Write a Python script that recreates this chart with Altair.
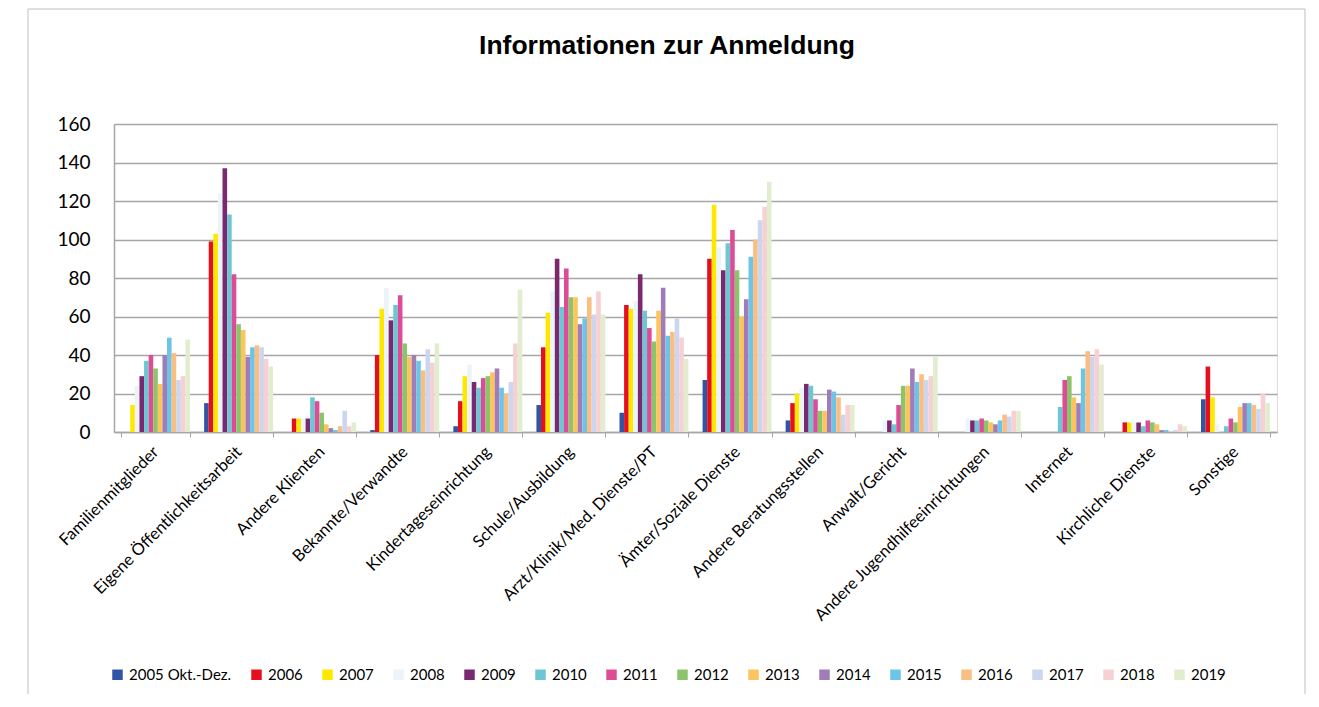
import altair as alt
import pandas as pd

categories = [
    "Familienmitglieder", "Eigene Öffentlichkeitsarbeit", "Andere Klienten",
    "Bekannte/Verwandte", "Kindertageseinrichtung", "Schule/Ausbildung",
    "Arzt/Klinik/Med. Dienste/PT", "Ämter/Soziale Dienste", "Andere Beratungsstellen",
    "Anwalt/Gericht", "Andere Jugendhilfeeinrichtungen", "Internet",
    "Kirchliche Dienste", "Sonstige",
]

years = ["2005 Okt.-Dez.", "2006", "2007", "2008", "2009", "2010", "2011", "2012",
         "2013", "2014", "2015", "2016", "2017", "2018", "2019"]

v2005 = [0, 15, 0, 1, 3, 14, 10, 27, 6, 0, 0, 0, 0, 17]
v2006 = [0, 99, 7, 40, 16, 44, 66, 90, 15, 0, 0, 0, 5, 34]
v2007 = [14, 103, 7, 64, 29, 62, 64, 118, 20, 0, 0, 0, 5, 18]
v2008 = [24, 124, 7, 75, 35, 73, 68, 96, 23, 6, 7, 0, 5, 4]
v2009 = [29, 137, 7, 58, 26, 90, 82, 84, 25, 6, 6, 0, 5, 0]
v2010 = [37, 113, 18, 66, 23, 65, 63, 98, 24, 4, 6, 13, 3, 3]
v2011 = [40, 82, 16, 71, 28, 85, 54, 105, 17, 14, 7, 27, 6, 7]
v2012 = [33, 56, 10, 46, 29, 70, 47, 84, 11, 24, 6, 29, 5, 5]
v2013 = [25, 53, 4, 39, 31, 70, 63, 60, 11, 24, 5, 18, 4, 13]
v2014 = [40, 39, 2, 40, 33, 56, 75, 69, 22, 33, 4, 15, 1, 15]
v2015 = [49, 44, 1, 37, 23, 59, 50, 91, 21, 26, 6, 33, 1, 15]
v2016 = [41, 45, 3, 32, 20, 70, 52, 100, 18, 30, 9, 42, 0, 14]
v2017 = [27, 44, 11, 43, 26, 61, 59, 110, 9, 27, 8, 39, 1, 12]
v2018 = [29, 38, 3, 36, 46, 73, 49, 117, 14, 29, 11, 43, 4, 20]
v2019 = [48, 34, 5, 46, 74, 61, 38, 130, 14, 39, 11, 35, 3, 15]

series = [v2005, v2006, v2007, v2008, v2009, v2010, v2011, v2012,
          v2013, v2014, v2015, v2016, v2017, v2018, v2019]

colors = ["#2F55A4", "#E5101D", "#FFE800", "#EAF4F9", "#7A2870", "#6FC6D3",
          "#DD4C96", "#8CC46C", "#FDC45E", "#A07DB8", "#6CC4E6", "#FBBE82",
          "#CCD6EE", "#F6D0D3", "#E2EDD0"]

rows = []
for y, vals in zip(years, series):
    for c, v in zip(categories, vals):
        rows.append({"Kategorie": c, "Jahr": y, "Anzahl": v})
df = pd.DataFrame(rows)

W, H = 1163, 308

bars = alt.Chart(df).mark_bar().encode(
    x=alt.X("Kategorie:N", sort=categories,
            scale=alt.Scale(paddingInner=0.17, paddingOuter=0.085),
            axis=alt.Axis(title=None, labelAngle=-45, labelAlign="right",
                          labelBaseline="middle", labelFontSize=16.5,
                          labelFont="Lato", labelColor="#000000",
                          labelPadding=12, tickBand="extent", ticks=True,
                          tickSize=5, tickColor="#A6A6A6", domainColor="#A6A6A6",
                          domainWidth=1.5, grid=False, labelLimit=400)),
    xOffset=alt.XOffset("Jahr:N", sort=years, scale=alt.Scale(paddingInner=0, paddingOuter=0)),
    y=alt.Y("Anzahl:Q", scale=alt.Scale(domain=[0, 160]),
            axis=alt.Axis(title=None, values=list(range(0, 161, 20)),
                          labelFontSize=19, labelFont="Lato", labelColor="#000000",
                          ticks=False, labelPadding=24, domainColor="#A6A6A6",
                          domainWidth=1.5, gridColor="#A6A6A6", gridWidth=1.5)),
    color=alt.Color("Jahr:N", sort=years,
                    scale=alt.Scale(domain=years, range=colors),
                    legend=alt.Legend(title=None, orient="none", legendX=-4, legendY=543,
                                      direction="horizontal", columns=15,
                                      symbolType="square", symbolSize=110,
                                      symbolStrokeWidth=0, labelFontSize=15,
                                      labelFont="Lato", labelColor="#000000",
                                      labelOffset=4, columnPadding=17, padding=0)),
)

title = alt.Chart(alt.Data(values=[{"t": "Informationen zur Anmeldung"}])).mark_text(
    font="Liberation Sans", fontSize=26.5, fontWeight="bold", color="#000000",
    baseline="middle", align="center"
).encode(text="t:N", x=alt.value(553), y=alt.value(-78))

frame = alt.Chart(alt.Data(values=[{}])).mark_rect(
    fill=None, stroke="#BFBFBF", strokeWidth=1, clip=False
).encode(x=alt.value(-86), x2=alt.value(1191), y=alt.value(-115), y2=alt.value(620))

chart = alt.layer(frame, bars, title).properties(
    width=W, height=H,
    autosize=alt.AutoSizeParams(type="none"),
    padding={"left": 106, "top": 116, "right": 30, "bottom": 262},
).configure_view(stroke=None).configure(background="#FFFFFF")

chart.save("out.html", embed_options={"renderer": "svg", "actions": False})
